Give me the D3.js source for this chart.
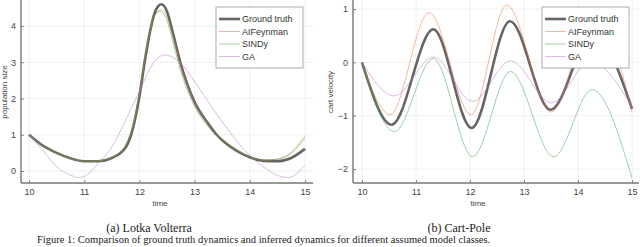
<!DOCTYPE html>
<html>
<head>
<meta charset="utf-8">
<script src="https://cdnjs.cloudflare.com/ajax/libs/d3/7.8.5/d3.min.js"></script>
<style>
  body { margin: 0; background: #fff; }
  svg { display: block; }
  .tick text { font-family: "Liberation Sans", Arial, sans-serif; font-size: 9px; fill: #444; }
  .lab { font-family: "Liberation Sans", Arial, sans-serif; font-size: 8px; fill: #444; }
  .leg { font-family: "Liberation Sans", Arial, sans-serif; font-size: 9px; fill: #333; }
  .cap { font-family: "Liberation Serif", "Times New Roman", serif; font-size: 12px; fill: #222; }
  .fig { font-family: "Liberation Serif", "Times New Roman", serif; font-size: 10.5px; fill: #222; }
</style>
</head>
<body>
<div class="container"></div>
<script>
var width = 640;
var height = 247;

var seriesNames = ['Ground truth', 'AIFeynman', 'SINDy', 'GA'];
var colors = ['#555555', '#e26f46', '#3da44d', '#c271d2'];
var xTicks = [10, 11, 12, 13, 14, 15];

// Lotka Volterra : [time, population size]
var lvTruth = [[10,1.0],[10.25,0.7],[10.5,0.5],[10.75,0.35],[11,0.27],[11.25,0.27],[11.5,0.36],[11.75,0.65],
  [11.85,1.0],[12,2.05],[12.1,3.05],[12.2,3.9],[12.3,4.45],[12.4,4.6],[12.5,4.4],[12.6,3.85],[12.75,2.95],
  [13,1.9],[13.25,1.3],[13.4,1.0],[13.5,0.85],[13.75,0.57],[14,0.38],[14.25,0.28],[14.5,0.27],[14.75,0.36],[15,0.61]];
var lvFeynman = [[10,1.0],[10.25,0.7],[10.5,0.5],[10.75,0.35],[11,0.27],[11.25,0.28],[11.5,0.37],[11.75,0.68],
  [11.85,1.05],[12,2.1],[12.1,3.1],[12.2,3.9],[12.3,4.35],[12.4,4.45],[12.5,4.25],[12.6,3.75],[12.75,2.9],
  [13,1.88],[13.25,1.3],[13.4,1.02],[13.5,0.88],[13.75,0.6],[14,0.4],[14.25,0.3],[14.5,0.32],[14.75,0.48],[15,0.9]];
var lvSindy = [[10,1.0],[10.25,0.7],[10.5,0.5],[10.75,0.35],[11,0.27],[11.25,0.28],[11.5,0.38],[11.75,0.72],
  [11.85,1.1],[12,2.2],[12.1,3.2],[12.2,3.95],[12.3,4.35],[12.38,4.4],[12.5,4.15],[12.6,3.6],[12.75,2.75],
  [13,1.78],[13.25,1.22],[13.4,0.97],[13.5,0.84],[13.75,0.58],[14,0.39],[14.25,0.3],[14.5,0.33],[14.75,0.52],[15,0.97]];
var lvGA = [[10,1.0],[10.25,0.57],[10.5,0.12],[10.75,-0.11],[10.9,-0.18],[11,-0.15],[11.25,0.2],[11.5,0.66],
  [11.75,1.4],[12,2.2],[12.25,2.97],[12.45,3.2],[12.75,2.97],[13,2.47],[13.25,1.9],[13.5,1.36],[13.75,0.85],
  [14,0.43],[14.25,0.11],[14.5,-0.12],[14.7,-0.18],[15,0.16]];

// Cart-Pole : [time, cart velocity]
var cpTruth = [[10,0],[10.55,-1.17],[11.32,0.62],[12.03,-1.23],[12.74,0.77],[13.49,-0.89],[14.28,0.55],[15,-0.87]];
var cpFeynman = [[10,0],[10.52,-0.98],[11.24,0.93],[12.02,-0.98],[12.68,1.07],[13.5,-0.93],[14.3,0.95],[15,-0.92]];
var cpSindy = [[10,0],[10.6,-1.3],[11.32,0.07],[12.05,-1.77],[12.75,-0.17],[13.55,-1.77],[14.26,-0.51],[15,-2.17]];
var cpGA = [[10,0],[10.6,-0.63],[11.32,0.1],[12.05,-0.73],[12.75,0.03],[13.51,-0.76],[14.23,0.02],[15,-0.84]];

var svg = d3.select('.container')
    .append('svg')
    .attr('width', width)
    .attr('height', height);

function drawPanel(opt) {
    var x = d3.scaleLinear().domain([10, 15]).range(opt.xr);
    var y = d3.scaleLinear().domain(opt.yd).range(opt.yr);
    var g = svg.append('g');

    // grid
    g.selectAll('.gx').data(xTicks).enter().append('line')
        .attr('x1', d => x(d)).attr('x2', d => x(d))
        .attr('y1', opt.top).attr('y2', opt.bottom)
        .style('stroke', '#ececec').style('stroke-width', 0.8);
    g.selectAll('.gy').data(opt.yTicks).enter().append('line')
        .attr('x1', opt.left).attr('x2', opt.right)
        .attr('y1', d => y(d)).attr('y2', d => y(d))
        .style('stroke', '#ececec').style('stroke-width', 0.8);

    // axes
    var ax = g.append('g').attr('transform', 'translate(0,' + opt.bottom + ')')
        .call(d3.axisBottom(x).tickValues(xTicks).tickSize(-3).tickPadding(6).tickFormat(d3.format('d')));
    var ay = g.append('g').attr('transform', 'translate(' + opt.left + ',0)')
        .call(d3.axisLeft(y).tickValues(opt.yTicks).tickSize(-3).tickPadding(5).tickFormat(d3.format('d')));
    [ax, ay].forEach(function(a) {
        a.select('.domain').remove();
        a.selectAll('.tick line').style('stroke', '#888');
    });
    g.append('line').attr('x1', opt.left).attr('x2', opt.right)
        .attr('y1', opt.bottom).attr('y2', opt.bottom)
        .style('stroke', '#777').style('stroke-width', 1.4);
    g.append('line').attr('x1', opt.left).attr('x2', opt.left)
        .attr('y1', opt.top).attr('y2', opt.bottom)
        .style('stroke', '#777').style('stroke-width', 1.4);

    // lines
    var line = d3.line().x(d => x(d[0])).y(d => y(d[1])).curve(d3.curveMonotoneX);
    var clip = 'clip' + opt.id;
    svg.append('clipPath').attr('id', clip).append('rect')
        .attr('x', opt.left).attr('y', 0).attr('width', opt.right - opt.left).attr('height', opt.bottom);
    var lg = g.append('g').attr('clip-path', 'url(#' + clip + ')');
    // truth underneath the fitted ones like the original
    lg.append('path').datum(opt.data[0]).attr('d', line)
        .style('fill', 'none').style('stroke', colors[0]).style('stroke-opacity', 0.9).style('stroke-width', 2.6);
    for (var i = 1; i < opt.data.length; i++) {
        lg.append('path').datum(opt.data[i]).attr('d', line)
            .style('fill', 'none').style('stroke', colors[i]).style('stroke-opacity', 0.5).style('stroke-width', 1);
    }

    // labels
    g.append('text').attr('class', 'lab').attr('x', opt.timeX).attr('y', 206)
        .attr('text-anchor', 'middle').text('time');
    g.append('text').attr('class', 'lab')
        .attr('transform', 'translate(' + opt.ylabX + ',' + opt.ylabY + ') rotate(-90)')
        .attr('text-anchor', 'middle').text(opt.ylab);
    g.append('text').attr('class', 'cap').attr('x', opt.capX).attr('y', 232)
        .attr('text-anchor', 'middle').text(opt.caption);

    // legend
    var lx = opt.legX, ly = 7;
    g.append('rect').attr('x', lx).attr('y', ly).attr('width', 87).attr('height', 61)
        .style('fill', '#fff').style('stroke', '#999').style('stroke-width', 0.8);
    seriesNames.forEach(function(n, i) {
        var yy = ly + 12 + i * 12.5;
        g.append('line').attr('x1', lx + 3).attr('x2', lx + 24).attr('y1', yy).attr('y2', yy)
            .style('stroke', colors[i])
            .style('stroke-opacity', i == 0 ? 0.9 : 0.5)
            .style('stroke-width', i == 0 ? 2.6 : 1);
        g.append('text').attr('class', 'leg').attr('x', lx + 26).attr('y', yy + 3.2).text(n);
    });
}

drawPanel({
    id: 'a', xr: [29, 305], yd: [0, 4], yr: [171, 26],
    left: 21, right: 313, top: 0, bottom: 183,
    yTicks: [0, 1, 2, 3, 4],
    data: [lvTruth, lvFeynman, lvSindy, lvGA],
    ylab: 'population size', ylabX: 7, ylabY: 92,
    timeX: 160, capX: 149, caption: '(a) Lotka Volterra', legX: 216
});

drawPanel({
    id: 'b', xr: [362, 632], yd: [-2, 1], yr: [169, 9],
    left: 353, right: 639, top: 0, bottom: 183,
    yTicks: [-2, -1, 0, 1],
    data: [cpTruth, cpFeynman, cpSindy, cpGA],
    ylab: 'cart velocity', ylabX: 333, ylabY: 92,
    timeX: 478, capX: 459, caption: '(b) Cart-Pole', legX: 542
});

svg.append('text').attr('class', 'fig').attr('x', 37).attr('y', 243)
    .text('Figure 1: Comparison of ground truth dynamics and inferred dynamics for different assumed model classes.');
</script>
</body>
</html>
